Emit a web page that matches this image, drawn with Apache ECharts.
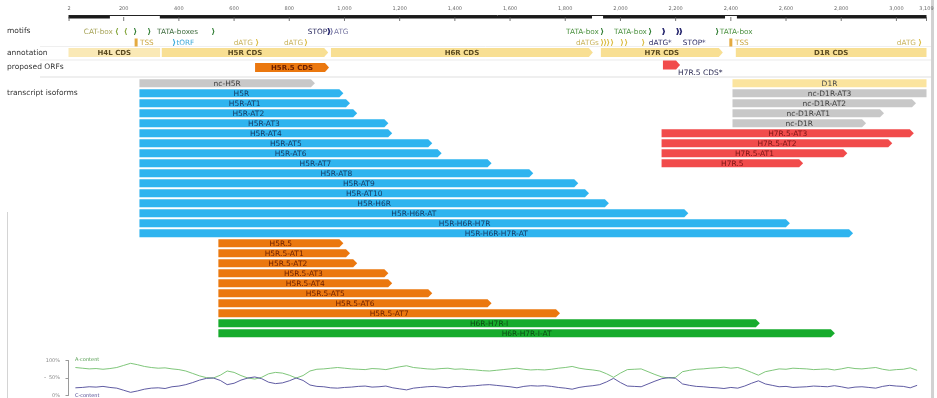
<!DOCTYPE html>
<html>
<head>
<meta charset="utf-8">
<script src="https://cdn.jsdelivr.net/npm/echarts@6/dist/echarts.min.js"></script>
<style>
  html, body { margin: 0; padding: 0; background: #fff; }
  #chart { width: 937px; height: 398px; }
</style>
</head>
<body>
<div id="chart"></div>
<script>
// ---- sequence ruler -------------------------------------------------------
const SEQ_LEN = 3109;
const rulerTicks = [2, 200, 400, 600, 800, 1000, 1200, 1400, 1600, 1800, 2000, 2200, 2400, 2600, 2800, 3000, 3109];
const sequenceBlocks = [[0, 150], [331, 1897], [1937, 2379], [2422, 3109]];

// ---- motifs (bp, track row, strand, kind) ---------------------------------
const motifPos    = [176, 208, 241, 292, 524, 944, 953, 1933, 2107, 2157, 2208, 2219, 2350,
                     245, 382, 683, 860, 1933, 1944, 1955, 1969, 2005, 2020, 2082, 2400, 3085];
const motifRow    = [0, 0, 0, 0, 0, 0, 0, 0, 0, 0, 0, 0, 0,
                     1, 1, 1, 1, 1, 1, 1, 1, 1, 1, 1, 1, 1];
const motifStrand = ['-', '-', '+', '+', '+', '+', '+', '+', '+', '+', '+', '+', '+',
                     '+', '+', '+', '+', '+', '+', '+', '+', '+', '+', '+', '+', '+'];
const motifKind   = ['CAT', 'CAT', 'TATA', 'TATA', 'TATA', 'STOP', 'ATG', 'TATA', 'TATA', 'STOP', 'STOP', 'STOP', 'TATA',
                     'TSS', 'tORF', 'dATG', 'dATG', 'dATG', 'dATG', 'dATG', 'dATG', 'dATG', 'dATG', 'dATG', 'TSS', 'dATG'];

const motifLabelText = ['CAT-box', 'TATA-boxes', 'STOP', 'ATG', 'TATA-box', 'TATA-box', 'TATA-box',
                        'TSS', 'tORF', 'dATG', 'dATG', 'dATGs', 'dATG*', 'STOP*', 'TSS', 'dATG'];
const motifLabelPos  = [161, 321, 937, 962, 1922, 2096, 2360, 259, 391, 668, 850, 1922, 2103, 2226, 2415, 3071];
const motifLabelRow  = [0, 0, 0, 0, 0, 0, 0, 1, 1, 1, 1, 1, 1, 1, 1, 1];
const motifLabelEdge = ['end', 'start', 'end', 'start', 'end', 'end', 'start',
                        'start', 'start', 'end', 'end', 'end', 'start', 'start', 'start', 'end'];
const motifLabelKind = ['CAT', 'TATA', 'STOP', 'ATG', 'TATA2', 'TATA2', 'TATA2',
                        'TSS', 'tORF', 'dATG', 'dATG', 'dATG', 'STAR', 'STAR', 'TSS', 'dATG'];

// ---- annotated CDS ---------------------------------------------------------
const cdsNames  = ['H4L CDS', 'H5R CDS', 'H6R CDS', 'H7R CDS', 'D1R CDS'];
const cdsStart  = [0, 338, 951, 1929, 2418];
const cdsEnd    = [332, 941, 1900, 2371, 3109];
const cdsStrand = ['-', '+', '+', '+', '+'];

// ---- proposed ORFs ---------------------------------------------------------
const orfNames = ['H5R.5 CDS', 'H7R.5 CDS*'];
const orfStart = [676, 2154];
const orfEnd   = [944, 2216];
const orfGene  = ['H5R.5', 'H7R.5'];

// ---- transcript isoforms (left block, one per lane) ------------------------
const leftIsoformNames = ['nc-H5R', 'H5R', 'H5R-AT1', 'H5R-AT2', 'H5R-AT3', 'H5R-AT4', 'H5R-AT5', 'H5R-AT6',
  'H5R-AT7', 'H5R-AT8', 'H5R-AT9', 'H5R-AT10', 'H5R-H6R', 'H5R-H6R-AT', 'H5R-H6R-H7R', 'H5R-H6R-H7R-AT',
  'H5R.5', 'H5R.5-AT1', 'H5R.5-AT2', 'H5R.5-AT3', 'H5R.5-AT4', 'H5R.5-AT5', 'H5R.5-AT6', 'H5R.5-AT7',
  'H6R-H7R-I', 'H6R-H7R-I-AT'];
const leftIsoformStart = [257, 257, 257, 257, 257, 257, 257, 257, 257, 257, 257, 257, 257, 257, 257, 257,
  543, 543, 543, 543, 543, 543, 543, 543, 543, 543];
const leftIsoformEnd = [893, 996, 1020, 1046, 1159, 1173, 1318, 1352, 1533, 1684, 1847, 1886, 1958, 2246, 2614, 2843,
  996, 1020, 1046, 1159, 1173, 1318, 1533, 1781, 2505, 2777];
const leftIsoformClass = ['nc', 'H5R', 'H5R', 'H5R', 'H5R', 'H5R', 'H5R', 'H5R', 'H5R', 'H5R', 'H5R', 'H5R',
  'H5R', 'H5R', 'H5R', 'H5R', 'H5R.5', 'H5R.5', 'H5R.5', 'H5R.5', 'H5R.5', 'H5R.5', 'H5R.5', 'H5R.5', 'I', 'I'];

// ---- transcript isoforms (right block, one per lane) -----------------------
const rightIsoformNames = ['D1R', 'nc-D1R-AT3', 'nc-D1R-AT2', 'nc-D1R-AT1', 'nc-D1R',
  'H7R.5-AT3', 'H7R.5-AT2', 'H7R.5-AT1', 'H7R.5'];
const rightIsoformStart = [2406, 2406, 2406, 2406, 2406, 2149, 2149, 2149, 2149];
const rightIsoformEnd   = [3109, 3109, 3071, 2955, 2890, 3063, 2985, 2822, 2662];
const rightIsoformClass = ['D1R', 'nc', 'nc', 'nc', 'nc', 'H7R.5', 'H7R.5', 'H7R.5', 'H7R.5'];

// ---- base composition, sliding window every 25 bp from 25 bp ---------------
const compositionStart = 25;
const compositionStep = 25;
const aContent = [80, 78, 76, 77, 75, 77, 80, 86, 92, 88, 83, 80, 78, 79, 76, 74, 70, 63, 56, 51,
  50, 58, 70, 66, 57, 50, 47, 52, 62, 66, 64, 58, 50, 57, 70, 75, 76, 78, 80, 78,
  76, 75, 74, 77, 76, 74, 78, 82, 85, 80, 78, 76, 75, 77, 78, 75, 76, 74, 73, 71,
  70, 72, 74, 76, 78, 75, 73, 74, 73, 75, 78, 80, 83, 78, 75, 73, 70, 62, 52, 64,
  74, 75, 76, 68, 60, 53, 50, 52, 68, 72, 75, 76, 78, 79, 81, 78, 80, 74, 66, 58,
  68, 72, 76, 75, 78, 77, 76, 74, 75, 76, 73, 76, 80, 77, 76, 78, 80, 75, 72, 74,
  75, 79, 72];
const cContent = [22, 23, 25, 24, 26, 23, 21, 15, 9, 13, 18, 21, 22, 20, 25, 27, 31, 37, 44, 49,
  50, 43, 31, 35, 44, 50, 53, 48, 38, 34, 36, 42, 50, 43, 30, 26, 25, 22, 21, 23,
  24, 26, 27, 24, 25, 27, 22, 19, 16, 21, 23, 25, 26, 24, 22, 26, 25, 27, 28, 30,
  31, 29, 27, 25, 22, 26, 28, 27, 28, 26, 23, 21, 18, 23, 26, 28, 31, 39, 49, 37,
  27, 26, 25, 33, 41, 48, 51, 49, 33, 29, 26, 25, 23, 22, 20, 23, 21, 27, 35, 42,
  33, 29, 25, 26, 23, 24, 25, 27, 26, 25, 28, 25, 21, 24, 25, 23, 21, 26, 29, 27,
  26, 22, 29];

// ---- styling ---------------------------------------------------------------
const FONT = '"DejaVu Sans", Verdana, sans-serif';
const LABEL_FONT = '7.5px ' + FONT;
const GRID_LEFT = 68.5, GRID_RIGHT = 10.5;

const MARK_COLOR = { CAT: '#84a63c', TATA: '#2f7d33', STOP: '#2a2a70', ATG: '#7c7ca8',
  TSS: '#e4aa40', tORF: '#38a9da', dATG: '#dabd46' };
const MOTIF_TEXT_COLOR = { CAT: '#a8a55a', TATA: '#3d6b3d', TATA2: '#4c9140', STOP: '#28285e',
  ATG: '#7676a2', TSS: '#cba845', tORF: '#3ea9d8', dATG: '#c9b45e', STAR: '#2d2d66' };
const ISO_STYLE = {
  'nc':    { fill: '#c8c8c8', text: '#3c3c3c' },
  'H5R':   { fill: '#2fb4ef', text: '#173b63' },
  'H5R.5': { fill: '#eb780f', text: '#6b1f00' },
  'I':     { fill: '#16ab2c', text: '#0c4a14' },
  'H7R.5': { fill: '#f14b4b', text: '#7a1414' },
  'D1R':   { fill: '#fbe49e', text: '#4a4a4a' }
};

const measureCtx = document.createElement('canvas').getContext('2d');
function textWidth(t, font) { measureCtx.font = font; return measureCtx.measureText(t).width; }

function barPoints(x0, x1, y, h, arrowRight, arrowLeft) {
  const hh = h / 2, a = 4;
  const ar = arrowRight ? Math.min(a, (x1 - x0) / 2) : 0;
  const al = arrowLeft ? Math.min(a, (x1 - x0) / 2) : 0;
  return [[x0 + al, y - hh], [x1 - ar, y - hh], [x1, y], [x1 - ar, y + hh], [x0 + al, y + hh], [x0, y]];
}

function textEl(text, x, y, font, fill, align) {
  return { type: 'text', silent: true, style: { text, x, y, font, fill,
    align: align || 'center', textAlign: align || 'center',
    verticalAlign: 'middle', textVerticalAlign: 'middle' } };
}

// ---- grids: ruler, motifs, annotation, ORFs, isoforms, composition ---------
const gridBoxes = [
  { top: 4, height: 20 },
  { top: 26, height: 22 },
  { top: 47.5, height: 10 },
  { top: 62, height: 10 },
  { top: 78.3, height: 260 },
  { top: 360.5, height: 35.5 }
];
const grid = gridBoxes.map(g => ({ left: GRID_LEFT, right: GRID_RIGHT, top: g.top, height: g.height }));
const xAxis = gridBoxes.map((g, i) => ({ type: 'value', gridIndex: i, min: 0, max: SEQ_LEN, show: false }));
const laneIds = leftIsoformNames.map((_, i) => 'lane' + i);
const yAxis = [
  { type: 'value', gridIndex: 0, min: 0, max: 1, show: false },
  { type: 'category', gridIndex: 1, data: ['motif-1', 'motif-2'], inverse: true, show: false },
  { type: 'category', gridIndex: 2, data: ['annotation'], show: false },
  { type: 'category', gridIndex: 3, data: ['orf'], show: false },
  { type: 'category', gridIndex: 4, data: laneIds, inverse: true, show: false },
  { type: 'value', gridIndex: 5, min: 0, max: 100, interval: 50, offset: 5.5,
    axisLine: { show: true, lineStyle: { color: '#9a9a9a', width: 1 } },
    axisTick: { show: true, length: 3, lineStyle: { color: '#9a9a9a' } },
    axisLabel: { fontSize: 5, color: '#8a8a8a', margin: 3, formatter: '{value}%', fontFamily: FONT },
    splitLine: { show: false } }
];

const series = [];

// ruler: thin sequence line
series.push({
  type: 'custom', xAxisIndex: 0, yAxisIndex: 0, silent: true,
  data: [[0, SEQ_LEN]],
  renderItem(params, api) {
    const cs = params.coordSys;
    const x0 = api.coord([api.value(0), 0])[0], x1 = api.coord([api.value(1), 0])[0];
    return { type: 'line', shape: { x1: x0, y1: cs.y + 11.5, x2: x1, y2: cs.y + 11.5 },
      style: { stroke: '#222', lineWidth: 1 } };
  }
});
// ruler: thick blocks
series.push({
  type: 'custom', xAxisIndex: 0, yAxisIndex: 0, silent: true,
  data: sequenceBlocks,
  renderItem(params, api) {
    const cs = params.coordSys;
    const x0 = api.coord([api.value(0), 0])[0], x1 = api.coord([api.value(1), 0])[0];
    return { type: 'rect', shape: { x: x0, y: cs.y + 12, width: x1 - x0, height: 2.6 },
      style: { fill: '#1a1a1a' } };
  }
});
// ruler: ticks and labels
series.push({
  type: 'custom', xAxisIndex: 0, yAxisIndex: 0, silent: true,
  data: rulerTicks.map(v => [v]),
  renderItem(params, api) {
    const cs = params.coordSys;
    const v = api.value(0);
    const x = api.coord([v, 0])[0];
    return { type: 'group', children: [
      { type: 'line', shape: { x1: x, y1: cs.y + 13, x2: x, y2: cs.y + 17 }, style: { stroke: '#555', lineWidth: 0.8 } },
      textEl(v.toLocaleString('en-US'), x, cs.y + 4.5, '5px ' + FONT, '#6a6a6a')
    ] };
  }
});

// motif markers
series.push({
  type: 'custom', xAxisIndex: 1, yAxisIndex: 1, silent: true,
  data: motifPos.map((p, i) => [p, motifRow[i]]),
  renderItem(params, api) {
    const i = params.dataIndex;
    const p = api.coord([api.value(0), api.value(1)]);
    const kind = motifKind[i];
    const col = MARK_COLOR[kind];
    const x = p[0], y = p[1];
    if (kind === 'TSS') {
      return { type: 'rect', shape: { x: x - 1.5, y: y - 4, width: 3, height: 8 }, style: { fill: col } };
    }
    const d = motifStrand[i] === '+' ? 1 : -1;
    const w = kind === 'STOP' ? 1.6 : 1.1, h = 3.6;
    const pts = [[x - d * w, y - h], [x, y - h], [x + d * 1.3, y], [x, y + h], [x - d * w, y + h], [x - d * w + d * 1.2, y]];
    return { type: 'polygon', shape: { points: pts }, style: { fill: col } };
  }
});
// motif labels
series.push({
  type: 'custom', xAxisIndex: 1, yAxisIndex: 1, silent: true,
  data: motifLabelPos.map((p, i) => [p, motifLabelRow[i]]),
  renderItem(params, api) {
    const i = params.dataIndex;
    const p = api.coord([api.value(0), api.value(1)]);
    const align = motifLabelEdge[i] === 'end' ? 'right' : 'left';
    return textEl(motifLabelText[i], p[0], p[1] + 0.5, '7.3px ' + FONT, MOTIF_TEXT_COLOR[motifLabelKind[i]], align);
  }
});

// annotated CDS
series.push({
  type: 'custom', xAxisIndex: 2, yAxisIndex: 2, silent: true,
  data: cdsNames.map((n, i) => [cdsStart[i], cdsEnd[i], 0]),
  renderItem(params, api) {
    const i = params.dataIndex;
    const p0 = api.coord([api.value(0), 0]), p1 = api.coord([api.value(1), 0]);
    const fwd = cdsStrand[i] === '+';
    const pts = barPoints(p0[0], p1[0], p0[1], 9,
      fwd && api.value(1) < SEQ_LEN, !fwd && api.value(0) > 0);
    return { type: 'group', children: [
      { type: 'polygon', shape: { points: pts }, style: { fill: fwd ? '#f8df93' : '#fae9b6' } },
      textEl(cdsNames[i], (p0[0] + p1[0]) / 2, p0[1] + 0.5, 'bold 7px ' + FONT, '#5a4a20')
    ] };
  }
});

// proposed ORFs
series.push({
  type: 'custom', xAxisIndex: 3, yAxisIndex: 3, silent: true,
  data: orfNames.map((n, i) => [orfStart[i], orfEnd[i], 0]),
  renderItem(params, api) {
    const i = params.dataIndex;
    const p0 = api.coord([api.value(0), 0]), p1 = api.coord([api.value(1), 0]);
    const st = ISO_STYLE[orfGene[i]];
    const font = 'bold 7px ' + FONT;
    const fits = textWidth(orfNames[i], font) < (p1[0] - p0[0]) - 4;
    const y = fits ? p0[1] + 0.5 : p0[1] - 2;
    const children = [{ type: 'polygon', shape: { points: barPoints(p0[0], p1[0], y, 9, true, false) }, style: { fill: st.fill } }];
    if (fits) {
      children.push(textEl(orfNames[i], (p0[0] + p1[0]) / 2, y + 0.5, font, '#6b1f00'));
    } else {
      children.push(textEl(orfNames[i], p1[0] - 2, y + 8.5, '7.5px ' + FONT, '#2d2d55', 'left'));
    }
    return { type: 'group', children };
  }
});

// transcript isoforms
function isoformSeries(names, starts, ends, classes) {
  return {
    type: 'custom', xAxisIndex: 4, yAxisIndex: 4, silent: true,
    data: names.map((n, i) => [starts[i], ends[i], i]),
    renderItem(params, api) {
      const i = params.dataIndex;
      const lane = api.value(2);
      const p0 = api.coord([api.value(0), lane]), p1 = api.coord([api.value(1), lane]);
      const h = api.size([0, 1])[1] * 0.8;
      const st = ISO_STYLE[classes[i]];
      const open = api.value(1) < SEQ_LEN;
      return { type: 'group', children: [
        { type: 'polygon', shape: { points: barPoints(p0[0], p1[0], p0[1], h, open, false) }, style: { fill: st.fill } },
        textEl(names[i], (p0[0] + p1[0]) / 2, p0[1] + 0.5, LABEL_FONT, st.text)
      ] };
    }
  };
}
series.push(isoformSeries(leftIsoformNames, leftIsoformStart, leftIsoformEnd, leftIsoformClass));
series.push(isoformSeries(rightIsoformNames, rightIsoformStart, rightIsoformEnd, rightIsoformClass));

// base composition lines
const compositionPos = aContent.map((_, i) => compositionStart + i * compositionStep);
series.push({
  type: 'line', name: 'A-content', xAxisIndex: 5, yAxisIndex: 5, showSymbol: false, silent: true,
  data: aContent.map((v, i) => [compositionPos[i], v]),
  lineStyle: { color: '#71c06b', width: 0.9 }
});
series.push({
  type: 'line', name: 'C-content', xAxisIndex: 5, yAxisIndex: 5, showSymbol: false, silent: true,
  data: cContent.map((v, i) => [compositionPos[i], v]),
  lineStyle: { color: '#4d4897', width: 0.9 }
});

// track captions, separators and frame
function gText(text, x, y, font, fill) {
  return { type: 'text', x, y, silent: true,
    style: { text, font, fill, align: 'left', textAlign: 'left', verticalAlign: 'middle', textVerticalAlign: 'middle' } };
}
function gLine(x1, y1, x2, y2, stroke, lineWidth) {
  return { type: 'line', silent: true, shape: { x1, y1, x2, y2 }, style: { stroke, lineWidth } };
}
const graphic = [
  gLine(40, 46.5, 931, 46.5, '#efefef', 1),
  gLine(40, 60, 931, 60, '#ebebeb', 1),
  gLine(40, 77, 931, 77, '#e0e0e0', 1.2),
  gLine(7.5, 212, 7.5, 398, '#d4d4d4', 1),
  { type: 'rect', silent: true, shape: { x: 931, y: 0, width: 3, height: 398 }, style: { fill: '#d2d2d2' } },
  gText('motifs', 7, 31.5, LABEL_FONT, '#333'),
  gText('annotation', 7, 53, LABEL_FONT, '#333'),
  gText('proposed ORFs', 7, 67.5, LABEL_FONT, '#333'),
  gText('transcript isoforms', 7, 93.5, LABEL_FONT, '#333'),
  gText('A-content', 75, 360, '5px ' + FONT, '#4f9a4a'),
  gText('C-content', 75, 395.5, '5px ' + FONT, '#4a4590'),
  gText('-', 44, 377.5, '6px ' + FONT, '#888')
];

const chart = echarts.init(document.getElementById('chart'), null, { renderer: 'canvas' });
chart.setOption({
  animation: false,
  backgroundColor: '#ffffff',
  textStyle: { fontFamily: FONT },
  grid, xAxis, yAxis, series, graphic
});
</script>
</body>
</html>
